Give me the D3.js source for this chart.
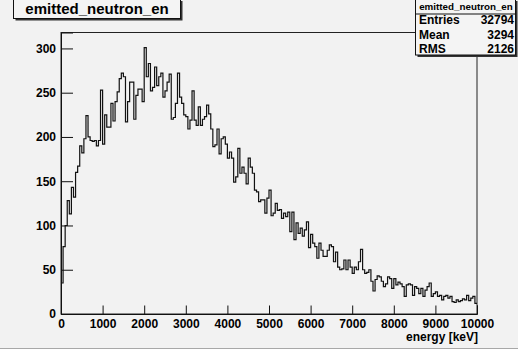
<!DOCTYPE html>
<html>
<head>
<meta charset="utf-8">
<script src="https://cdn.jsdelivr.net/npm/d3@7"></script>
<style>
  html, body { margin: 0; padding: 0; background: #ffffff; }
  svg { display: block; }
  text { font-family: "Liberation Sans", Arial, Helvetica, sans-serif; font-weight: bold; fill: #000; }
</style>
</head>
<body>
<svg id="chart" width="518" height="356"></svg>
<script>
// Histogram "emitted_neutron_en": 200 bins of 50 keV from 0 to 10000 keV
const histTitle = "emitted_neutron_en";
const xTitle = "energy [keV]";
const binWidthKeV = 50;
const counts = [
  35, 76, 100, 128, 113, 143, 132, 160, 167, 190,
  182, 198, 224, 200, 196, 195, 196, 190, 196, 253,
  192, 225, 211, 211, 238, 218, 240, 251, 266, 272,
  268, 217, 240, 262, 262, 220, 247, 254, 254, 240,
  301, 268, 283, 252, 256, 279, 258, 268, 272, 245,
  252, 262, 271, 220, 222, 238, 272, 245, 238, 225,
  223, 209, 219, 252, 219, 213, 234, 213, 220, 223,
  236, 226, 209, 189, 191, 209, 181, 198, 200, 192,
  176, 183, 176, 149, 155, 187, 159, 166, 159, 147,
  176, 166, 159, 140, 138, 127, 129, 129, 114, 131,
  140, 111, 114, 125, 117, 118, 108, 114, 110, 115,
  93, 115, 84, 103, 91, 97, 88, 95, 104, 75,
  90, 80, 76, 63, 80, 72, 65, 65, 72, 78,
  76, 59, 70, 53, 50, 51, 61, 50, 61, 53,
  46, 53, 50, 59, 73, 50, 46, 47, 50, 37,
  26, 39, 43, 42, 37, 31, 34, 42, 40, 29,
  40, 33, 36, 34, 31, 20, 33, 34, 33, 21,
  31, 29, 23, 29, 20, 27, 31, 35, 20, 23,
  25, 20, 21, 16, 20, 21, 18, 20, 14, 13,
  16, 14, 15, 17, 16, 21, 15, 18, 20, 12
];
const xTicks = [0, 1000, 2000, 3000, 4000, 5000, 6000, 7000, 8000, 9000, 10000];
const xMinorTicks = d3.range(0, 10001, 200);
const yTicks = [0, 50, 100, 150, 200, 250, 300];
const yMinorTicks = d3.range(0, 318, 10);
const statsNames = ["Entries", "Mean", "RMS"];
const statsValues = ["32794", "3294", "2126"];

const svg = d3.select("#chart");
const W = 518, H = 356;

// canvas
svg.append("rect").attr("x", 0).attr("y", 0).attr("width", W).attr("height", 348)
  .attr("fill", "#f2f2f2");
svg.append("line").attr("x1", 0).attr("x2", W).attr("y1", 348.5).attr("y2", 348.5)
  .attr("stroke", "#a8a8a8").attr("stroke-width", 1);

const frame = { left: 61, right: 477, top: 32.5, bottom: 314 };
const x = d3.scaleLinear().domain([0, 10000]).range([frame.left, frame.right]);
const y = d3.scaleLinear().domain([0, 318]).range([frame.bottom, frame.top]);

// frame
svg.append("rect")
  .attr("x", frame.left).attr("y", frame.top)
  .attr("width", frame.right - frame.left).attr("height", frame.bottom - frame.top)
  .attr("fill", "#f2f2f2").attr("stroke", "#222").attr("stroke-width", 1);

// histogram outline
const pts = counts.map((c, i) => [i * binWidthKeV, c]);
pts.push([counts.length * binWidthKeV, counts[counts.length - 1]]);
const line = d3.line().x(d => x(d[0])).y(d => y(d[1])).curve(d3.curveStepAfter);
svg.append("path").attr("d", line(pts))
  .attr("fill", "none").attr("stroke", "#111").attr("stroke-width", 1.2);

// y axis
const gy = svg.append("g").attr("transform", `translate(${frame.left},0)`);
gy.call(d3.axisLeft(y).tickValues(yMinorTicks).tickSize(-6).tickFormat(""));
gy.call(d3.axisLeft(y).tickValues(yTicks).tickSize(-12).tickPadding(5));
gy.selectAll(".domain").attr("stroke", "#111");
gy.selectAll(".tick line").attr("stroke", "#111");
gy.selectAll(".tick text").attr("font-size", 12).attr("font-family", null).attr("fill", "#000");

// x axis
const gx = svg.append("g").attr("transform", `translate(0,${frame.bottom})`);
gx.call(d3.axisBottom(x).tickValues(xMinorTicks).tickSize(-4.5).tickFormat(""));
gx.call(d3.axisBottom(x).tickValues(xTicks).tickSize(-8.5).tickPadding(5.5).tickFormat(d3.format("d")));
gx.selectAll(".domain").attr("stroke", "#111");
gx.selectAll(".tick line").attr("stroke", "#111");
gx.selectAll(".tick text").attr("font-size", 12).attr("font-family", null).attr("fill", "#000");

svg.append("text").attr("x", 478).attr("y", 341).attr("text-anchor", "end")
  .attr("font-size", 12).text(xTitle);

// title box with shadow
function box(x0, y0, w, h) {
  svg.append("rect").attr("x", x0 + 2).attr("y", y0 + 2).attr("width", w).attr("height", h)
    .attr("fill", "#333");
  svg.append("rect").attr("x", x0).attr("y", y0).attr("width", w).attr("height", h)
    .attr("fill", "#f4f4f4").attr("stroke", "#111").attr("stroke-width", 1);
}
box(13.5, -1, 167, 19.5);
svg.append("text").attr("x", 97).attr("y", 13.5).attr("text-anchor", "middle")
  .attr("font-size", 15).text(histTitle);

// statistics box
box(415.5, -1, 100, 56);
svg.append("line").attr("x1", 415.5).attr("x2", 515.5).attr("y1", 14).attr("y2", 14)
  .attr("stroke", "#111");
svg.append("text").attr("x", 466).attr("y", 10).attr("text-anchor", "middle")
  .attr("font-size", 9.8).text(histTitle);
const rowY = d3.scalePoint().domain(statsNames).range([24.3, 53.3]);
statsNames.forEach((n, i) => {
  svg.append("text").attr("x", 419).attr("y", rowY(n)).attr("font-size", 12).text(n);
  svg.append("text").attr("x", 514).attr("y", rowY(n)).attr("text-anchor", "end")
    .attr("font-size", 12).text(statsValues[i]);
});
</script>
</body>
</html>
